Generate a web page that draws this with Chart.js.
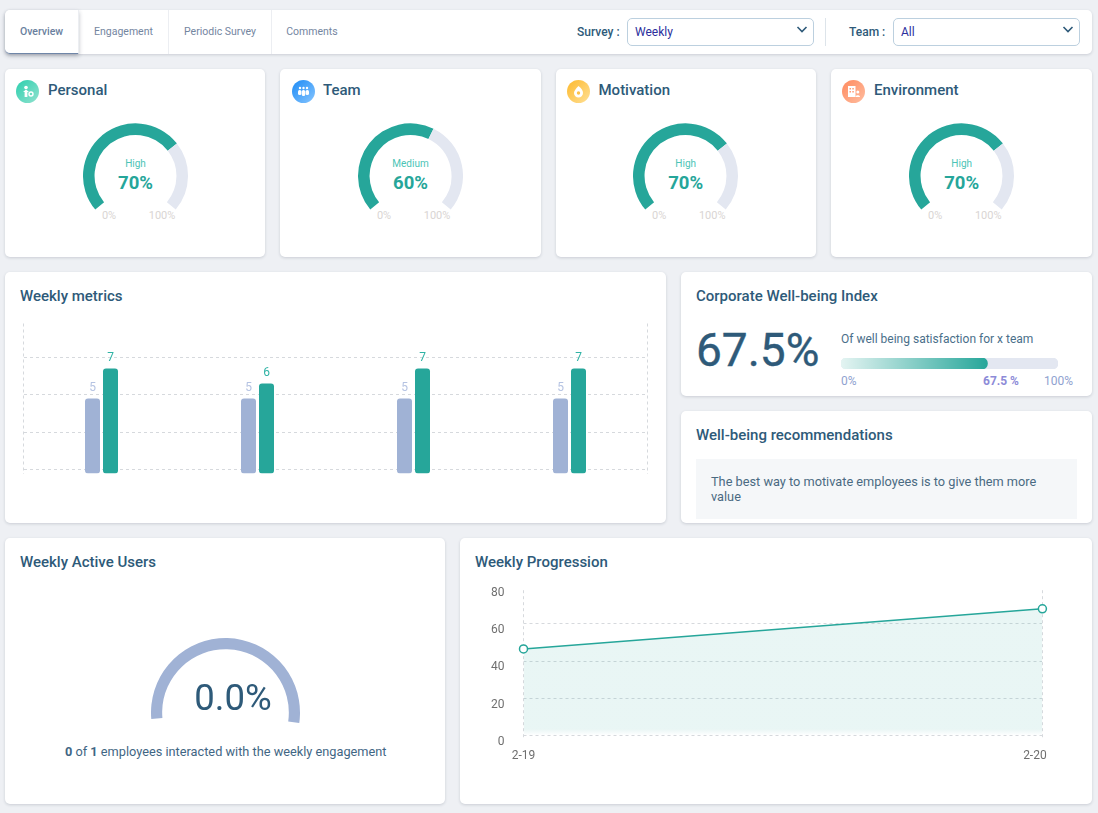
<!DOCTYPE html>
<html>
<head>
<meta charset="utf-8">
<title>Overview</title>
<script src="https://cdn.jsdelivr.net/npm/chart.js@4"></script>
<style>
* { box-sizing: border-box; margin: 0; padding: 0; }
html, body { width: 1098px; height: 813px; overflow: hidden; background: #eef0f4; font-family: Roboto, sans-serif; }
.card { position: absolute; background: #fff; border-radius: 5px; box-shadow: 0 1px 3px rgba(40, 50, 70, .18); }
.t { position: absolute; white-space: nowrap; transform: translateY(-50%); line-height: 1; }
.c { transform: translate(-50%, -50%); }
.title { font-size: 15px; font-weight: 500; color: #2e5a79; }
.gtitle { font-size: 15px; font-weight: 500; color: #2e5a79; }
canvas { position: absolute; display: block; }
.tab { position: absolute; top: 10px; height: 44px; border-right: 1px solid #eceef2; font-size: 10.5px; color: #74869f; text-align: center; line-height: 43px; }
.tab.active { font-weight: 500; color: #6a7f9e; background: #fff; border-radius: 5px 0 0 5px; border-bottom: 1px solid #6f86a8; box-shadow: 0 2px 4px rgba(40, 50, 70, .3); }
.select { position: absolute; top: 18px; height: 28px; border: 1px solid #bcd0df; border-radius: 5px; font-size: 12px; color: #2b2f9c; line-height: 26px; padding-left: 7px; background: #fff; }
.select svg { position: absolute; right: 5px; top: 6px; }
.icon { position: absolute; top: 80px; width: 23px; height: 23px; border-radius: 50%; }
.icon svg { position: absolute; left: 5px; top: 5px; }
</style>
</head>
<body>
<script>
const gaugeTitles = ["Personal", "Team", "Motivation", "Environment"];
const gaugeLevels = ["High", "Medium", "High", "High"];
const gaugeValues = [70, 60, 70, 70];

const metricCategories = ["Personal", "Team", "Motivation", "Environment"];
const metricsPrevious = [5, 5, 5, 5];
const metricsCurrent = [7, 6, 7, 7];

const indexValue = [67.5];
const activeUsers = [0, 1];

const progressionLabels = ["2-19", "2-20"];
const progressionValues = [48.5, 70];
const progressionTicks = [0, 20, 40, 60, 80];

const TEAL = "#26a69a";
const TRACK = "#e3e7f1";
const BLUE = "#a0b2d5";
const GRID = "#d6d9dd";

Chart.defaults.font.family = "Roboto";
Chart.defaults.animation = false;
Chart.defaults.responsive = false;
Chart.defaults.plugins.legend.display = false;
Chart.defaults.plugins.tooltip.enabled = false;

// --- helpers ---
function addBox(cls, x, y, w, h) {
    const d = document.createElement("div");
    d.className = cls;
    d.style.cssText = `left:${x}px;top:${y}px;width:${w}px;height:${h}px`;
    document.body.appendChild(d);
    return d;
}

function addText(txt, x, y, style, cls) {
    const d = document.createElement("div");
    d.className = "t " + (cls || "");
    d.innerHTML = txt;
    d.style.cssText = `left:${x}px;top:${y}px;` + (style || "");
    document.body.appendChild(d);
    return d;
}

function addCanvas(x, y, w, h) {
    const c = document.createElement("canvas");
    c.width = w; c.height = h;
    c.style.left = x + "px";
    c.style.top = y + "px";
    c.style.width = w + "px";
    c.style.height = h + "px";
    document.body.appendChild(c);
    return c;
}

const chevron = '<svg width="12" height="9" viewBox="0 0 12 9"><path d="M1.5 2 L6 6.5 L10.5 2" fill="none" stroke="#2e5a79" stroke-width="1.6"/></svg>';

// --- top bar ---
addBox("card", 5, 10, 1087, 44);
[["Overview", 5, 74, true], ["Engagement", 79, 90], ["Periodic Survey", 169, 103], ["Comments", 272, 80]].forEach(tb => {
    const d = addBox("tab" + (tb[3] ? " active" : ""), tb[1], 10, tb[2], 44);
    d.textContent = tb[0];
    if (tb[0] === "Comments") d.style.borderRight = "none";
});
addText("Survey :", 577, 32, "font-size:12px;font-weight:500;color:#2e5a79");
addBox("select", 627, 18, 187, 28).innerHTML = "Weekly" + chevron;
addBox("", 825, 18, 1, 28).style.cssText += ";position:absolute;background:#dde4ea";
addText("Team :", 849, 32, "font-size:12px;font-weight:500;color:#2e5a79");
addBox("select", 893, 18, 187, 28).innerHTML = "All" + chevron;

// --- gauge cards ---
const gaugeCards = [[5, 260, 135.5, 16, 48], [280, 261, 410.5, 292, 323], [556, 260, 685.7, 567, 598.5], [831, 261, 961.7, 842, 874]];
const iconFills = ["#2bcfae,#93e2cf", "#1d8bf5,#86c5ff", "#fdb92c,#ffe096", "#ff8a5e,#ffbda0"];
const iconGlyphs = [
    '<circle cx="5" cy="2.5" r="1.8" fill="#fff"/><path d="M2 7 L5 4.5 L8 7 H6.4 V12 H3.6 V7Z" fill="#fff"/><circle cx="10" cy="9" r="2" fill="none" stroke="#fff" stroke-width="1.4"/>',
    '<circle cx="3" cy="3" r="1.2" fill="#fff"/><circle cx="6.5" cy="3" r="1.2" fill="#fff"/><circle cx="10" cy="3" r="1.2" fill="#fff"/><rect x="1" y="5" width="3.4" height="5" rx="1.5" fill="#fff"/><rect x="4.8" y="5" width="3.4" height="6" rx="1.5" fill="#fff"/><rect x="8.6" y="5" width="3.4" height="5" rx="1.5" fill="#fff"/>',
    '<path d="M6.5 1 C9.5 3.5 11 5.5 11 8 A4.5 4.5 0 0 1 2 8 C2 6 3.5 4 6.5 1Z" fill="#fff"/><circle cx="6.5" cy="8" r="1.7" fill="#fdc24a"/>',
    '<rect x="1" y="1" width="7.5" height="11" fill="#fff"/><rect x="2.5" y="3" width="1.5" height="1.5" fill="#ff9a74"/><rect x="5.3" y="3" width="1.5" height="1.5" fill="#ff9a74"/><rect x="2.5" y="6" width="1.5" height="1.5" fill="#ff9a74"/><rect x="5.3" y="6" width="1.5" height="1.5" fill="#ff9a74"/><circle cx="10.8" cy="7" r="1.5" fill="#fff"/><path d="M8.5 12 C8.5 9.6 13 9.6 13 12Z" fill="#fff"/>'
];

gaugeTitles.forEach((name, i) => {
    const g = gaugeCards[i];
    addBox("card", g[0], 69, g[1], 188);
    const ic = addBox("icon", g[3], 80, 23, 23);
    ic.style.background = `linear-gradient(135deg,${iconFills[i]})`;
    ic.innerHTML = `<svg width="13" height="13" viewBox="0 0 13 13">${iconGlyphs[i]}</svg>`;
    addText(name, g[4], 90, "", "gtitle");
    addText(gaugeLevels[i], g[2], 163.5, "font-size:10px;color:#4cc4b6", "c");
    addText(gaugeValues[i] + "%", g[2], 182.5, "font-size:18.5px;font-weight:700;color:" + TEAL, "c");
    addText("0%", g[2] - 26.5, 215, "font-size:11px;color:#d9d5d3", "c");
    addText("100%", g[2] + 26.5, 215, "font-size:11px;color:#d9d5d3", "c");

    new Chart(addCanvas(g[2] - 52.5, 123, 105, 87), {
        type: "doughnut",
        data: { datasets: [{ data: [gaugeValues[i], 100 - gaugeValues[i]], backgroundColor: [TEAL, TRACK], borderWidth: 0 }] },
        options: { rotation: -130, circumference: 260, cutout: "78%" }
    });
});

// --- weekly metrics ---
addBox("card", 5, 272, 661, 251);
addText("Weekly metrics", 20, 296, "", "title");

const barLabels = {
    id: "barLabels",
    afterDatasetsDraw(chart) {
        const ctx = chart.ctx;
        ctx.save();
        ctx.font = "12px Roboto";
        ctx.textAlign = "center";
        ctx.textBaseline = "middle";
        chart.data.datasets.forEach((ds, i) => {
            ctx.fillStyle = ds.labelColor;
            chart.getDatasetMeta(i).data.forEach((bar, j) => ctx.fillText(ds.data[j], bar.x, bar.y - 10.5));
        });
        ctx.restore();
    }
};

new Chart(addCanvas(12.5, 313, 645, 171), {
    type: "bar",
    data: {
        labels: metricCategories,
        datasets: [
            { data: metricsPrevious, backgroundColor: BLUE, labelColor: "#b5c3e2" },
            { data: metricsCurrent, backgroundColor: TEAL, labelColor: "#2fb3a5" }
        ]
    },
    options: {
        layout: { padding: { left: 10.5, right: 10.5, top: 10.5, bottom: 10.5 } },
        datasets: { bar: { categoryPercentage: 36 / 156, barPercentage: 15 / 18, borderRadius: 3, borderSkipped: false } },
        scales: {
            x: {
                ticks: { display: false },
                border: { display: false, dash: [3, 3] },
                grid: {
                    drawTicks: false,
                    // only the two outer lines are visible
                    color: c => (c.index === 0 || c.index === undefined) ? GRID : "transparent"
                }
            },
            y: {
                min: 0, max: 10,
                ticks: { display: false },
                border: { display: false, dash: [3, 3] },
                grid: { drawTicks: false, color: GRID },
                afterBuildTicks: s => { s.ticks = [0.25, 2.75, 5.25, 7.75].map(v => ({ value: v })); }
            }
        }
    },
    plugins: [barLabels]
});

// --- corporate index ---
addBox("card", 681, 272, 411, 124);
addText("Corporate Well-being Index", 696, 296, "", "title");
addText(indexValue[0] + "%", 696, 350, "font-size:46px;-webkit-text-stroke:0.4px #2e5a79;color:#2e5a79");
addText("Of well being satisfaction for x team", 841, 339, "font-size:12px;color:#4a6f8a");
addText("0%", 841, 381, "font-size:12px;color:#8fa2d0");
addText(indexValue[0] + " %", 983, 381, "font-size:12px;font-weight:700;color:#8d8bd8");
addText("100%", 1044, 381, "font-size:12px;color:#8fa2d0");

new Chart(addCanvas(841, 358, 217, 11), {
    type: "bar",
    data: {
        labels: [""],
        datasets: [
            {
                data: indexValue, order: 1,
                backgroundColor: c => {
                    const area = c.chart.chartArea;
                    if (!area) return TEAL;
                    const gr = c.chart.ctx.createLinearGradient(area.left, 0, area.left + area.width * indexValue[0] / 100, 0);
                    gr.addColorStop(0, "#e4f4f2");
                    gr.addColorStop(1, TEAL);
                    return gr;
                }
            },
            { data: [100], order: 2, backgroundColor: TRACK }
        ]
    },
    options: {
        indexAxis: "y",
        layout: { padding: 0 },
        datasets: { bar: { grouped: false, barPercentage: 1, categoryPercentage: 1, borderRadius: 5.5, borderSkipped: false } },
        scales: { x: { display: false, min: 0, max: 100 }, y: { display: false } }
    }
});

// --- recommendations ---
addBox("card", 681, 411, 411, 112);
addText("Well-being recommendations", 696, 435, "", "title");
addBox("", 696, 459, 381, 60).style.cssText += ";position:absolute;background:#f5f7f9";
addText("The best way to motivate employees is to give them more<br>value", 711, 489, "font-size:12.75px;line-height:15px;color:#4a6a82");

// --- weekly active users ---
addBox("card", 5, 538, 440, 266);
addText("Weekly Active Users", 20, 562, "", "title");
new Chart(addCanvas(150.5, 637.5, 149, 85), {
    type: "doughnut",
    data: { datasets: [{ data: activeUsers, backgroundColor: [TEAL, BLUE], borderWidth: 0 }] },
    options: { rotation: -95, circumference: 193, cutout: "85%" }
});
addText(activeUsers[0].toFixed(1) + "%", 233, 698, "font-size:36.5px;color:#2e5a79", "c");
addText(`<b style="font-weight:700">${activeUsers[0]}</b> of <b style="font-weight:700">${activeUsers[1]}</b> employees interacted with the weekly engagement`, 65, 751.5, "font-size:12.75px;color:#3f6684");

// --- weekly progression ---
addBox("card", 460, 538, 632, 266);
addText("Weekly Progression", 475, 562, "", "title");

const labelStops = [0, 1 - 7.5 / 519];

new Chart(addCanvas(480, 564, 590, 205), {
    type: "line",
    data: {
        labels: progressionLabels,
        datasets: [{
            data: progressionValues,
            borderColor: TEAL,
            borderWidth: 1.5,
            tension: 0,
            fill: "origin",
            backgroundColor: c => {
                const area = c.chart.chartArea;
                if (!area) return "rgba(38,166,154,0.1)";
                const gr = c.chart.ctx.createLinearGradient(0, area.top, 0, area.bottom);
                gr.addColorStop(0, "rgba(38,166,154,0.1)");
                gr.addColorStop(0.93, "rgba(38,166,154,0.1)");
                gr.addColorStop(0.975, "rgba(38,166,154,0)");
                return gr;
            },
            pointRadius: 4,
            pointBackgroundColor: "#fff",
            pointBorderColor: TEAL,
            pointBorderWidth: 1.5,
            clip: false
        }]
    },
    options: {
        layout: { padding: { top: 10.3, right: 27.6 } },
        scales: {
            x: {
                ticks: { display: false },
                border: { display: false, dash: [3, 3] },
                grid: { drawTicks: false, color: GRID }
            },
            xLabels: {
                type: "linear", position: "bottom", min: 0, max: 1,
                border: { display: false },
                grid: { display: false, drawTicks: false },
                ticks: {
                    padding: 9, maxRotation: 0, autoSkip: false,
                    font: { size: 12 }, color: "#6f6f6f",
                    callback: (v, i) => progressionLabels[i]
                },
                afterBuildTicks: s => { s.ticks = labelStops.map(v => ({ value: v })); },
                afterFit: s => { s.height = 29.7; }
            },
            y: {
                min: progressionTicks[0], max: progressionTicks[progressionTicks.length - 1],
                border: { display: false },
                grid: { display: false, drawTicks: false },
                ticks: { stepSize: 20, padding: 19, labelOffset: 2.5, font: { size: 12 }, color: "#6f6f6f" },
                afterFit: s => { s.width = 43.5; }
            },
            yGrid: {
                position: "right",
                min: progressionTicks[0], max: progressionTicks[progressionTicks.length - 1],
                ticks: { display: false },
                border: { display: false, dash: [3, 3] },
                grid: { drawTicks: false, color: GRID },
                afterBuildTicks: s => { s.ticks = progressionTicks.slice(0, 4).map(v => ({ value: v + 1.9 })); },
                afterFit: s => { s.width = 0; }
            }
        }
    }
});
</script>
</body>
</html>
